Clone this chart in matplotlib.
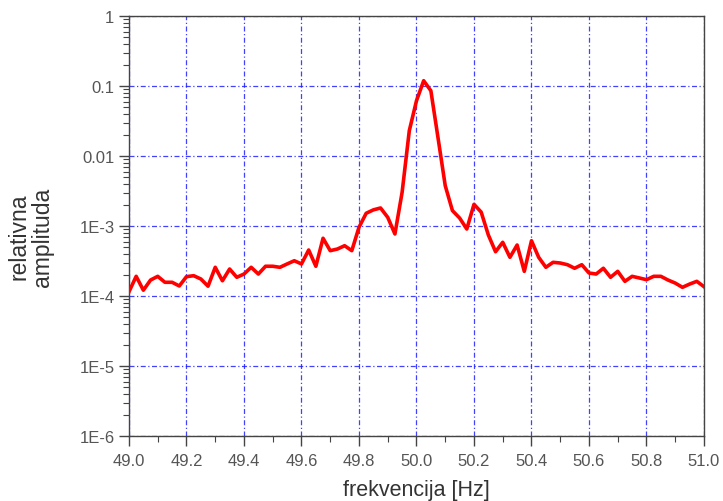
import numpy as np
import matplotlib.pyplot as plt
from matplotlib.ticker import FixedLocator, LogLocator, MultipleLocator, FuncFormatter

plt.rcParams['font.family'] = ['Liberation Sans', 'DejaVu Sans']

# frekvencije od 49.0 do 51.0 Hz, korak 0.025 Hz
f_start = 49.0
f_step = 0.025

amplituda = [
    1.15e-4, 1.91e-4, 1.21e-4, 1.69e-4, 1.91e-4, 1.57e-4, 1.57e-4, 1.39e-4,
    1.89e-4, 1.95e-4, 1.75e-4, 1.38e-4, 2.57e-4, 1.65e-4, 2.43e-4, 1.85e-4,
    2.06e-4, 2.57e-4, 2.06e-4, 2.66e-4, 2.66e-4, 2.57e-4, 2.87e-4, 3.19e-4,
    2.87e-4, 4.54e-4, 2.66e-4, 6.68e-4, 4.44e-4, 4.69e-4, 5.23e-4, 4.44e-4,
    9.58e-4, 1.52e-3, 1.70e-3, 1.81e-3, 1.33e-3, 7.69e-4, 3.03e-3, 2.30e-2,
    6.16e-2, 1.19e-1, 8.57e-2, 1.81e-2, 3.77e-3, 1.66e-3, 1.30e-3, 9.06e-4,
    2.04e-3, 1.58e-3, 7.44e-4, 4.29e-4, 5.85e-4, 3.57e-4, 5.35e-4, 2.25e-4,
    6.16e-4, 3.57e-4, 2.57e-4, 3.03e-4, 2.96e-4, 2.80e-4, 2.49e-4, 2.80e-4,
    2.13e-4, 2.06e-4, 2.49e-4, 1.85e-4, 2.25e-4, 1.62e-4, 1.91e-4, 1.81e-4,
    1.71e-4, 1.91e-4, 1.91e-4, 1.69e-4, 1.53e-4, 1.33e-4, 1.48e-4, 1.62e-4,
    1.36e-4,
]
frekvencija = f_start + f_step * np.arange(len(amplituda))

y_ticks = [1e-6, 1e-5, 1e-4, 1e-3, 1e-2, 1e-1, 1]
y_labels = ['1E-6', '1E-5', '1E-4', '1E-3', '0.01', '0.1', '1']

fig = plt.figure(figsize=(7.23, 5.02), dpi=100)
ax = fig.add_axes([0.1784, 0.1295, 0.7953, 0.8366])

ax.plot(frekvencija, amplituda, color='#ff0000', linewidth=2.6, zorder=3)

ax.set_yscale('log')
ax.set_xlim(49.0, 51.0)
ax.set_ylim(1e-6, 1)

ax.xaxis.set_major_locator(MultipleLocator(0.2))
ax.xaxis.set_minor_locator(MultipleLocator(0.1))
ax.xaxis.set_major_formatter(FuncFormatter(lambda v, p: f'{v:.1f}'))
ax.yaxis.set_major_locator(FixedLocator(y_ticks))
ax.set_yticklabels(y_labels)
ax.yaxis.set_minor_locator(LogLocator(base=10, subs=np.arange(2, 10), numticks=20))

ax.grid(True, which='major', color='#2020ff', linestyle=(0, (4, 2, 1, 2)),
        linewidth=0.9, alpha=0.85)

for s in ax.spines.values():
    s.set_color('#444444')
    s.set_linewidth(1.0)

ax.tick_params(which='major', direction='out', length=7, width=1,
               color='#444444', labelsize=12, labelcolor='#555555')
ax.tick_params(which='minor', direction='out', length=4, width=0.8,
               color='#444444')
ax.tick_params(axis='x', which='major', pad=5)

ax.set_xlabel('frekvencija [Hz]', fontsize=15.5, color='#333333', labelpad=8)
fig.text(31 / 723, 1 - 237 / 502, 'relativna\namplituda', rotation=90,
         ha='center', va='center', multialignment='center',
         fontsize=16.5, color='#333333', linespacing=1.05)

plt.savefig('out.png', dpi=100)
